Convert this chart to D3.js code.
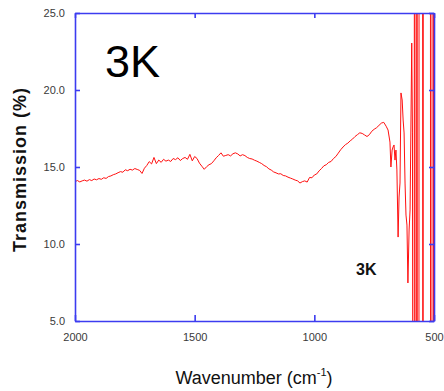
<!DOCTYPE html>
<html>
<head>
<meta charset="utf-8">
<script src="https://cdn.jsdelivr.net/npm/d3@7"></script>
<style>
  html, body { margin: 0; padding: 0; background: #ffffff; }
  svg { display: block; }
  text { font-family: "Liberation Sans", Arial, sans-serif; }
</style>
</head>
<body>
<svg id="chart" width="444" height="391"></svg>
<script>
// Infrared transmission spectrum of the 3K sample
const wavenumber = [
  2000, 1990, 1980, 1970, 1960, 1950, 1940, 1930, 1920, 1910,
  1900, 1890, 1880, 1870, 1860, 1850, 1840, 1830, 1820, 1810,
  1800, 1790, 1780, 1770, 1760, 1750, 1740, 1730, 1720, 1710,
  1700, 1690, 1680, 1670, 1660, 1650, 1640, 1630, 1620, 1610,
  1600, 1590, 1580, 1570, 1560, 1550, 1540, 1530, 1520, 1510,
  1500, 1490, 1480, 1470, 1460, 1450, 1440, 1430, 1420, 1410,
  1400, 1390, 1380, 1370, 1360, 1350, 1340, 1330, 1320, 1310,
  1300, 1290, 1280, 1270, 1260, 1250, 1240, 1230, 1220, 1210,
  1200, 1190, 1180, 1170, 1160, 1150, 1140, 1130, 1120, 1110,
  1100, 1090, 1080, 1070, 1060, 1050, 1040, 1030, 1020, 1010,
  1000, 990, 980, 970, 960, 950, 940, 930, 920, 910,
  900, 890, 880, 870, 860, 850, 840, 830, 820, 810,
  800, 790, 780, 770, 760, 750, 740, 730, 720, 710,
  700, 692, 684, 680, 675, 671, 667, 663, 659, 655,
  650, 646, 642, 638, 633, 629, 625, 621, 617, 613,
  609, 604, 600, 593, 590, 588,
  582.7, 581.9, 579.8, 579.0, 572.7, 571.9, 570.6, 569.8,
  563.1, 562.3, 547.6, 546.8, 545.5, 544.7,
  515.0, 514.2, 508.7, 507.9, 502.5, 501.7, 500
];

const transmission = [
  14.05, 14.12, 14.03, 14.10, 14.15, 14.08, 14.18, 14.12, 14.22, 14.17,
  14.25, 14.20, 14.30, 14.26, 14.38, 14.42, 14.50, 14.55, 14.63, 14.70,
  14.66, 14.82, 14.76, 14.85, 14.80, 14.90, 14.84, 14.78, 14.58, 14.92,
  15.10, 15.35, 15.20, 15.62, 15.22, 15.45, 15.30, 15.50, 15.38, 15.45,
  15.36, 15.55, 15.48, 15.60, 15.42, 15.55, 15.62, 15.50, 15.82, 15.40,
  15.68, 15.55, 15.25, 15.05, 14.85, 15.02, 15.15, 15.22, 15.40, 15.60,
  15.75, 15.92, 15.70, 15.75, 15.80, 15.72, 15.86, 15.92, 15.85, 15.72,
  15.80, 15.74, 15.62, 15.55, 15.52, 15.44, 15.38, 15.30, 15.22, 15.10,
  15.02, 14.88, 14.80, 14.68, 14.62, 14.55, 14.56, 14.45, 14.42, 14.34,
  14.28, 14.22, 14.15, 14.10, 13.96, 14.05, 14.10, 14.02, 14.32, 14.30,
  14.48, 14.55, 14.75, 14.90, 15.08, 15.15, 15.30, 15.36, 15.55, 15.68,
  15.90, 16.12, 16.30, 16.45, 16.55, 16.70, 16.82, 16.98, 17.10, 17.22,
  17.18, 17.08, 16.98, 17.10, 17.32, 17.45, 17.55, 17.70, 17.85, 17.90,
  17.65, 17.40, 16.62, 15.00, 16.10, 16.30, 16.43, 15.45, 16.10, 14.81,
  10.45, 13.05, 13.96, 19.81, 19.35, 18.05, 17.21, 13.96, 11.88, 11.23,
  7.47, 10.91, 12.21, 23.05, 17.21, -10,
  -10, 40, 40, -10, -10, 40, 40, -10,
  -10, 40, 40, -10, -10, 40,
  40, -10, -10, 40, 40, -10, -10
];

const xTicks = [2000, 1500, 1000, 500];
const yTicks = [5, 10, 15, 20, 25];

const svg = d3.select("#chart");
const W = 444, H = 391;
const plot = { left: 75, right: 434, top: 13, bottom: 321 };
const axisColor = "#3c3cf0";
const labelColor = "#3a3a3a";

const x = d3.scaleLinear().domain([2000, 500]).range([plot.left, plot.right]);
const y = d3.scaleLinear().domain([5, 25]).range([plot.bottom, plot.top]);

svg.append("rect").attr("width", W).attr("height", H).attr("fill", "#ffffff");

// clip the trace to the frame
svg.append("defs").append("clipPath").attr("id", "plotClip")
  .append("rect")
  .attr("x", plot.left).attr("y", plot.top)
  .attr("width", plot.right - plot.left).attr("height", plot.bottom - plot.top);

const points = wavenumber.map((w, i) => [w, transmission[i]]);
const line = d3.line().x(d => x(d[0])).y(d => y(d[1]));

svg.append("path")
  .datum(points)
  .attr("clip-path", "url(#plotClip)")
  .attr("fill", "none")
  .attr("stroke", "#ff1010")
  .attr("stroke-width", 1)
  .attr("stroke-linejoin", "round")
  .attr("d", line);

// axes with inward ticks
const fmtY = d3.format(".1f");
function styleAxis(g, showLabels) {
  g.select(".domain").attr("stroke", axisColor).attr("stroke-width", 1.6);
  g.selectAll(".tick line").attr("stroke", axisColor).attr("stroke-width", 1.6);
  g.selectAll(".tick text")
    .attr("fill", labelColor)
    .style("font-size", "11px")
    .style("font-family", "'Liberation Sans', Arial, sans-serif")
    .style("display", showLabels ? null : "none");
}

svg.append("g")
  .attr("transform", `translate(0,${plot.bottom})`)
  .call(d3.axisBottom(x).tickValues(xTicks).tickSizeInner(-6).tickSizeOuter(0).tickPadding(12).tickFormat(d3.format("d")))
  .call(g => styleAxis(g, true));

svg.append("g")
  .attr("transform", `translate(0,${plot.top})`)
  .call(d3.axisTop(x).tickValues(xTicks).tickSizeInner(-5).tickSizeOuter(0))
  .call(g => styleAxis(g, false));

svg.append("g")
  .attr("transform", `translate(${plot.left},0)`)
  .call(d3.axisLeft(y).tickValues(yTicks).tickSizeInner(-5).tickSizeOuter(0).tickPadding(10).tickFormat(fmtY))
  .call(g => styleAxis(g, true));

svg.append("g")
  .attr("transform", `translate(${plot.right},0)`)
  .call(d3.axisRight(y).tickValues(yTicks).tickSizeInner(-5).tickSizeOuter(0))
  .call(g => styleAxis(g, false));

// axis titles
svg.append("text")
  .attr("transform", `translate(26,${(88 + 252) / 2}) rotate(-90)`)
  .attr("text-anchor", "middle")
  .attr("textLength", 164)
  .attr("lengthAdjust", "spacing")
  .style("font-size", "18px")
  .style("font-weight", "bold")
  .attr("fill", "#111")
  .text("Transmission (%)");

const xt = svg.append("text")
  .attr("x", 254)
  .attr("y", 384)
  .attr("text-anchor", "middle")
  .style("font-size", "18px")
  .attr("fill", "#111");
xt.append("tspan").text("Wavenumber (cm");
xt.append("tspan").attr("dy", -8).style("font-size", "11px").text("-1");
xt.append("tspan").attr("dy", 8).text(")");

// sample labels
svg.append("text")
  .attr("x", 105).attr("y", 77)
  .style("font-size", "45px")
  .attr("fill", "#000")
  .text("3K");

svg.append("text")
  .attr("x", 356).attr("y", 275)
  .style("font-size", "16px")
  .style("font-weight", "bold")
  .attr("fill", "#111")
  .text("3K");
</script>
</body>
</html>
